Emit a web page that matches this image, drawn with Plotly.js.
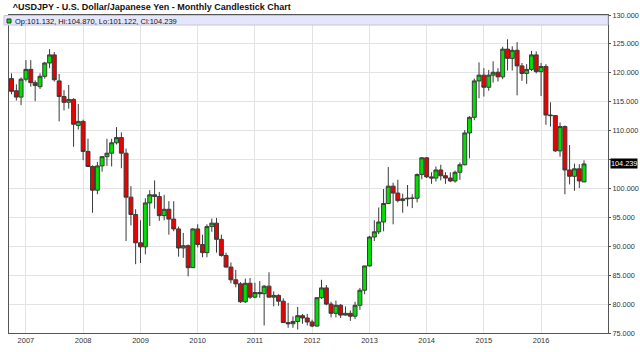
<!DOCTYPE html>
<html>
<head>
<meta charset="utf-8">
<script src="https://cdn.plot.ly/plotly-3.0.1.min.js"></script>
<style>html,body{margin:0;padding:0;background:#fff;}#chart{width:640px;height:352px;}</style>
</head>
<body>
<div id="chart"></div>
<script>
// First month of the series and monthly OHLC values (Oct 2006 .. Oct 2016)
var startYear = 2006, startMonth = 10;
var openVals = [
119.0,116.9,115.8,
118.9,120.6,118.3,117.6,119.4,121.7,123.1,118.6,115.9,114.9,115.4,110.9,
111.6,106.4,103.8,99.7,103.9,105.5,106.1,107.9,108.8,106.1,98.5,95.5,
90.6,89.9,97.5,98.9,98.6,95.3,96.4,94.7,93.0,89.7,90.1,86.3,
93.0,90.3,88.9,93.4,94.0,91.2,88.4,86.4,84.2,83.5,80.4,83.6,
81.2,82.0,81.8,83.1,81.2,81.5,80.5,76.8,76.6,77.0,78.0,77.6,
76.9,76.2,81.1,82.8,80.0,78.4,79.8,78.1,78.4,77.9,79.8,82.4,
86.6,91.6,92.5,94.2,97.4,100.4,99.2,97.9,98.2,98.3,98.3,102.4,
105.3,102.0,101.8,103.2,102.2,101.8,101.3,102.8,104.1,109.6,112.3,118.6,
119.6,117.5,119.6,120.1,119.3,124.1,122.5,123.9,121.2,119.9,120.6,123.1,
120.2,121.1,112.7,112.6,106.5,110.7,103.2,102.1,103.4,101.132
];
var highVals = [
119.9,118.0,119.2,
122.2,122.2,118.7,119.9,121.9,124.1,123.6,119.8,117.0,117.9,115.6,114.6,
111.9,108.6,104.0,104.6,105.5,108.6,108.6,110.6,109.7,106.9,100.4,96.4,
94.5,98.3,99.7,101.4,99.4,98.9,97.8,97.8,93.4,92.3,90.3,93.1,
93.8,92.0,93.8,94.8,94.9,92.0,88.9,87.2,85.9,83.8,84.4,84.5,
83.7,84.0,83.3,85.5,82.2,81.7,81.0,80.2,77.9,79.5,78.3,78.3,
77.3,81.2,84.2,83.3,80.4,80.6,80.0,79.6,78.9,80.4,82.8,86.6,
91.8,94.5,96.7,99.9,103.7,101.0,101.5,99.1,100.6,99.0,102.6,105.4,
105.4,102.8,103.8,104.1,102.8,102.8,103.1,104.5,110.1,112.5,119.0,121.8,
120.8,120.5,122.0,120.8,124.5,125.8,124.6,125.3,121.7,121.5,123.8,123.7,
121.7,121.5,114.9,112.7,111.4,110.9,107.5,104.3,104.2,104.870
];
var lowVals = [
116.3,115.2,114.4,
118.5,117.6,115.1,117.2,119.0,120.8,118.5,111.6,113.5,113.8,107.2,110.2,
104.9,103.7,95.8,99.0,102.9,103.9,103.8,107.6,103.5,90.9,93.6,86.9,
87.1,88.6,93.5,96.5,94.4,94.5,92.0,92.6,88.2,88.0,84.8,86.3,
89.8,88.1,88.1,92.5,88.9,88.2,86.3,83.6,82.9,80.2,80.2,80.9,
81.0,81.1,76.3,81.3,79.6,79.7,76.8,75.9,75.9,75.6,76.6,76.3,
76.0,76.1,80.9,79.8,77.7,77.7,77.6,78.0,77.1,77.4,79.0,81.7,
86.5,90.9,92.1,92.6,97.3,93.8,97.6,95.8,96.9,96.6,97.6,101.6,
101.8,100.8,101.2,101.4,100.8,101.1,101.0,101.5,104.0,105.2,111.8,115.6,
115.9,116.9,118.3,118.5,118.9,120.4,120.4,116.1,118.6,118.1,120.3,119.9,
116.0,111.0,110.7,106.3,105.5,99.0,100.7,99.6,100.1,101.122
];
var closeVals = [
116.8,115.8,118.9,
120.6,118.3,117.8,119.4,121.7,123.1,118.8,115.9,114.9,115.4,111.1,111.6,
106.4,103.8,99.7,103.9,105.5,106.1,107.9,108.8,106.1,98.5,95.5,90.6,
89.9,97.5,98.9,98.6,95.3,96.4,94.7,93.0,89.7,90.1,86.3,93.0,
90.3,88.9,93.4,94.0,91.2,88.4,86.4,84.2,83.5,80.4,83.6,81.2,
82.0,81.8,83.1,81.2,81.5,80.5,76.8,76.6,77.0,78.0,77.6,76.9,
76.2,81.1,82.8,80.0,78.4,79.8,78.1,78.4,77.9,79.8,82.4,86.6,
91.6,92.5,94.2,97.4,100.4,99.2,97.9,98.2,98.3,98.3,102.4,105.3,
102.0,101.8,103.2,102.2,101.8,101.3,102.8,104.1,109.6,112.3,118.6,119.6,
117.5,119.6,120.1,119.3,124.1,122.5,123.9,121.2,119.9,120.6,123.1,120.2,
121.1,112.7,112.6,106.5,110.7,103.2,102.1,103.4,101.3,104.239
];
var yearTicks = ['2007','2008','2009','2010','2011','2012','2013','2014','2015','2016'];
var priceTicks = [75, 80, 85, 90, 95, 100, 105, 110, 115, 120, 125, 130];
var priceLabels = ['75.000','80.000','85.000','90.000','95.000','100.000','','110.000','115.000','120.000','125.000','130.000'];
var titleText = '^USDJPY - U.S. Dollar/Japanese Yen - Monthly Candlestick Chart';

var months = [];
for (var i = 0; i < openVals.length; i++) {
  var m = startMonth - 1 + i;
  var y = startYear + Math.floor(m / 12);
  var mm = (m % 12) + 1;
  months.push(y + '-' + (mm < 10 ? '0' + mm : mm) + '-01');
}
var n = closeVals.length - 1;
var legendText = 'Op:' + openVals[n].toFixed(3) + ', Hi:' + highVals[n].toFixed(3) +
  ', Lo:' + lowVals[n].toFixed(3) + ', Cl:' + closeVals[n].toFixed(3);

var trace = {
  type: 'candlestick',
  x: months, open: openVals, high: highVals, low: lowVals, close: closeVals,
  increasing: {line: {color: '#3a3a3a', width: 1}, fillcolor: '#00e000'},
  decreasing: {line: {color: '#3a3a3a', width: 1}, fillcolor: '#ee0000'},
  whiskerwidth: 0,
  showlegend: false,
  hoverinfo: 'skip'
};

var plotTop = 15, plotH = 352 - 15 - 19;
function py(p) { return 1 - (p - plotTop) / plotH; }
function px(p) { return (p - 9) / 599; }

var layout = {
  width: 640, height: 352,
  margin: {l: 9, r: 32, t: 15, b: 19, pad: 0},
  paper_bgcolor: '#ffffff', plot_bgcolor: '#ffffff',
  font: {family: 'Liberation Sans, Arial, sans-serif', color: '#222'},
  title: {text: '<b>' + titleText + '</b>', x: 4 / 640, xanchor: 'left', xref: 'paper',
          y: 1 - 7 / 352, yanchor: 'middle', yref: 'container',
          font: {size: 9, color: '#111', family: 'Liberation Sans, Arial, sans-serif'}},
  boxgap: 0.1, boxgroupgap: 0,
  showlegend: false,
  xaxis: {
    type: 'date', range: ['2006-09-15', '2017-03-03'],
    tickmode: 'array', tickvals: yearTicks.map(function (t) { return t + '-01-01'; }), ticktext: yearTicks,
    showgrid: true, gridcolor: '#e3e3e3', gridwidth: 1,
    showline: true, linecolor: '#555', linewidth: 1, mirror: true,
    ticks: '', tickfont: {size: 7.5, color: '#333'},
    rangeslider: {visible: false}, fixedrange: true, zeroline: false
  },
  yaxis: {
    side: 'right', range: [75, 130],
    tickmode: 'array', tickvals: priceTicks, ticktext: priceLabels,
    showgrid: true, gridcolor: '#e3e3e3', gridwidth: 1,
    showline: true, linecolor: '#555', linewidth: 1, mirror: true,
    ticks: 'outside', ticklen: 2, tickcolor: '#555', tickfont: {size: 7.3, color: '#333'},
    fixedrange: true, zeroline: false
  },
  shapes: [
    {type: 'rect', xref: 'paper', yref: 'paper', x0: px(4), x1: 1, y0: py(25), y1: py(15.5),
     fillcolor: '#e6e6fa', line: {color: '#c4c4dc', width: 1}, layer: 'above'},
    {type: 'rect', xref: 'paper', yref: 'paper', x0: px(7), x1: px(11), y0: py(23), y1: py(19),
     fillcolor: '#00e000', line: {color: '#333', width: 1}, layer: 'above'}
  ],
  annotations: [
    {xref: 'paper', yref: 'paper', x: px(13), y: py(21), xanchor: 'left', yanchor: 'middle',
     text: legendText, showarrow: false, font: {size: 7.5, color: '#111'}},
    {xref: 'paper', yref: 'y', x: 1, y: closeVals[n], xanchor: 'left', yanchor: 'middle', xshift: 2,
     text: closeVals[n].toFixed(3), showarrow: false, bgcolor: '#000', borderpad: 0,
     font: {size: 7.3, color: '#fff'}}
  ]
};

Plotly.newPlot('chart', [trace], layout, {staticPlot: true, displayModeBar: false});
</script>
</body>
</html>
